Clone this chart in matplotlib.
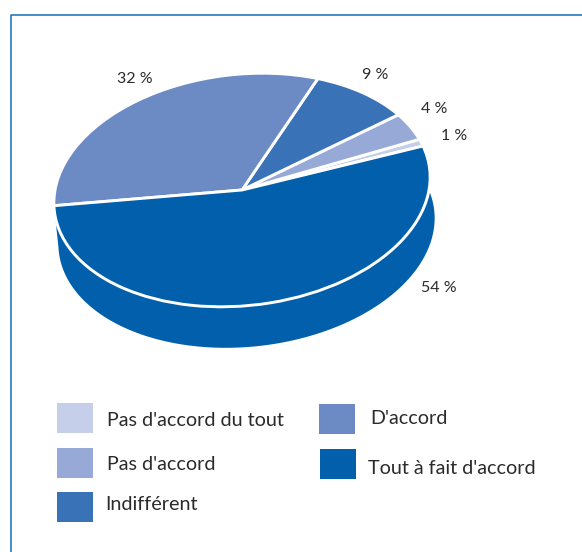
import numpy as np
import matplotlib
matplotlib.use('Agg')
import matplotlib.pyplot as plt
from matplotlib.patches import Rectangle, Polygon
from matplotlib.transforms import Affine2D

categories = ["Pas d'accord du tout", "Pas d'accord", "Indifférent", "D'accord", "Tout à fait d'accord"]
values = [1, 4, 9, 32, 54]
value_labels = ['1 %', '4 %', '9 %', '32 %', '54 %']
colors = ['#c5cfe9', '#97a9d6', '#3a72b7', '#6c8ac3', '#015fac']

# layout, in pixels of the picture
label_pos = [(454, 136), (434, 109), (375, 75), (135, 79), (439, 288)]
swatch_pos = [(57, 403), (57, 448), (57, 492), (318.5, 404), (319.5, 449)]
text_pos = [(107, 420), (107, 465), (105.5, 505), (370, 418), (368, 468)]

plt.rcParams['font.family'] = ['Lato', 'DejaVu Sans']
text_color = '#2b2b2b'
frame_color = '#1270bd'

fig = plt.figure(figsize=(5.82, 5.52), dpi=100)
ax = fig.add_axes([0, 0, 1, 1])

# unit circle -> tilted ellipse of the top face
top = np.array([[181, -51.3, 242], [-44, -108.2, 190], [0, 0, 1]])
depth = (4.5, 41)
to_top = Affine2D(top)
wedges, _ = ax.pie(values, colors=colors, startangle=0,
                   wedgeprops={'edgecolor': 'white', 'linewidth': 2.1})
for w in wedges:
    w.set_transform(to_top + ax.transData)
    w.set_zorder(3)

# side of the big slice
big = wedges[-1]
t = np.radians(np.linspace(big.theta1, big.theta2, 200))
arc = to_top.transform(np.column_stack([np.cos(t), np.sin(t)]))
side = np.vstack([arc, arc[::-1] + depth])
ax.add_patch(Polygon(side, closed=True, facecolor=colors[-1], edgecolor='none', zorder=2))

for (x, y), s in zip(label_pos, value_labels):
    ax.text(x, y, s, fontsize=11.5, color=text_color, ha='center', va='center')

for (x, y), c in zip(swatch_pos, colors):
    ax.add_patch(Rectangle((x, y), 36, 30, facecolor=c, edgecolor='none'))
for (x, y), s in zip(text_pos, categories):
    ax.text(x, y, s, fontsize=14.2, color=text_color, ha='left', va='center')

ax.plot([11, 11, 582], [552, 15, 15], color=frame_color, lw=1.1)

ax.set_aspect('auto')
ax.set_xlim(0, 582)
ax.set_ylim(552, 0)
ax.axis('off')

plt.savefig('out.png', dpi=100)
